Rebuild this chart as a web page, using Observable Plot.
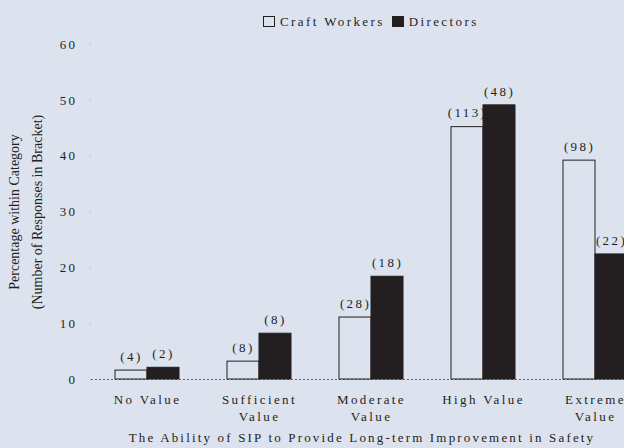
<!DOCTYPE html>
<html>
<head>
<meta charset="utf-8">
<script src="https://cdn.jsdelivr.net/npm/d3@7"></script>
<script src="https://cdn.jsdelivr.net/npm/@observablehq/plot@0.6"></script>
<style>
  html, body { margin: 0; padding: 0; background: #dce3ef; width: 624px; height: 448px; overflow: hidden; }
  body { font-family: "Liberation Serif", "Times New Roman", serif; color: #231f20; }
  #legend { position: relative; height: 30px; font-size: 13px; letter-spacing: 2.4px; }
  #legend .row { position: absolute; left: 263px; top: 14px; line-height: 16px; display: flex; align-items: center; white-space: nowrap; }
  #legend .sw { display: inline-block; width: 12px; height: 11px; box-sizing: border-box; border: 1px solid #231f20; margin-right: 5px; position: relative; top: -1px; }
  #legend .lab { margin-right: 7px; }
  #chart { width: 624px; height: 400px; overflow: hidden; }
  #chart svg { max-width: none !important; overflow: hidden; }
  #chart svg text { letter-spacing: 2.4px; }
  #chart svg text.nospace { letter-spacing: 0; }
  #xtitle { height: 18px; line-height: 16px; font-size: 13px; letter-spacing: 2.17px; text-align: center; padding-left: 100px; white-space: nowrap; }
</style>
</head>
<body>
<div id="legend"></div>
<div id="chart"></div>
<div id="xtitle"></div>
<script>
// ---- data ----
const categories = ["No Value", "Sufficient\nValue", "Moderate\nValue", "High Value", "Extreme\nValue"];
const seriesNames = ["Craft Workers", "Directors"];
const craftPct = [1.6, 3.2, 11.1, 45.2, 39.2];
const directorPct = [2.1, 8.2, 18.4, 49.1, 22.4];
const craftN = [4, 8, 28, 113, 98];
const directorN = [2, 8, 18, 48, 22];
const yTicks = [0, 10, 20, 30, 40, 50, 60];
const yTitle = "Percentage within Category\n(Number of Responses in Bracket)";
const xTitle = "The Ability of SIP to Provide Long-term Improvement in Safety";

const ink = "#231f20";
const bg = "#dce3ef";
const fills = [bg, ink];

const rows = categories.flatMap((c, i) => [
  {category: c, series: seriesNames[0], value: craftPct[i], n: craftN[i]},
  {category: c, series: seriesNames[1], value: directorPct[i], n: directorN[i]}
]);

// ---- legend ----
const legend = document.querySelector("#legend");
const row = document.createElement("div");
row.className = "row";
seriesNames.forEach((s, i) => {
  const sw = document.createElement("span");
  sw.className = "sw";
  sw.style.background = fills[i];
  const lab = document.createElement("span");
  lab.className = "lab";
  lab.textContent = s;
  row.appendChild(sw);
  row.appendChild(lab);
});
legend.appendChild(row);

// ---- chart ----
const chart = Plot.plot({
  width: 651,
  height: 400,
  marginLeft: 91,
  marginRight: 0,
  marginTop: 14,
  marginBottom: 51,
  style: {background: "transparent", fontFamily: "Liberation Serif, Times New Roman, serif", fontSize: "13px", color: ink},
  fx: {domain: categories, padding: 0, label: null},
  x: {domain: seriesNames, paddingInner: 0, paddingOuter: 0.723, axis: null},
  y: {domain: [0, 60], label: null},
  color: {domain: seriesNames, range: fills},
  marks: [
    Plot.axisY({ticks: yTicks, tickSize: 1.5, tickPadding: 12.5, stroke: "#b4bac6", label: null, fontSize: 13}),
    Plot.axisFx({anchor: "bottom", tickSize: 0, tickPadding: 12.5, lineHeight: 1.31, label: null, fontSize: 13}),
    Plot.text([{fx: categories[0]}], {
      fx: "fx", text: () => yTitle, frameAnchor: "left", dx: -68, rotate: -90,
      fontSize: 14, lineHeight: 1.6, textAnchor: "middle", fill: ink
    }),
    Plot.ruleY([0], {stroke: "#666", strokeDasharray: "2,2", strokeWidth: 1}),
    Plot.text(rows, {fx: "category", x: "series", y: "value", text: d => `(${d.n})`, dy: -14, fontSize: 13, fill: ink}),
    Plot.barY(rows, {fx: "category", x: "series", y: "value", fill: "series", stroke: ink, strokeWidth: 1})
  ]
});
d3.select(chart).selectAll("text")
  .filter(function () { return this.textContent.startsWith("Percentage"); })
  .classed("nospace", true);
document.querySelector("#chart").appendChild(chart);

document.querySelector("#xtitle").textContent = xTitle;
</script>
</body>
</html>
